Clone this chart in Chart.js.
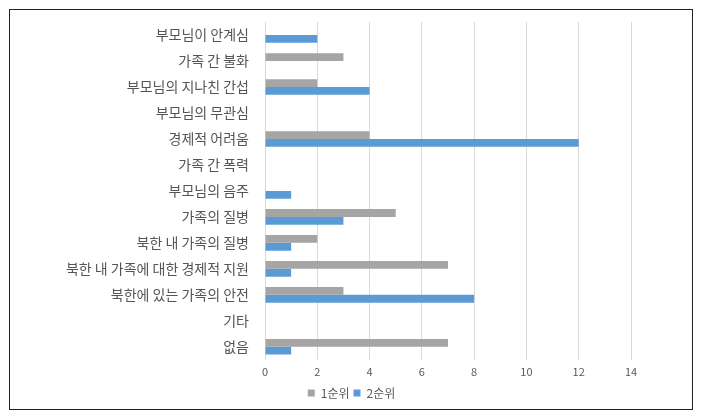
<!DOCTYPE html>
<html lang="ko">
<head>
<meta charset="UTF-8" />
<title>Chart</title>
<style>
  body { margin: 0; background: #fff; }
  #frame { position: absolute; left: 9px; top: 9px; width: 682px; height: 399px; border: 1px solid #222; }
  #chart { position: absolute; left: 0; top: 0; }
</style>
</head>
<body>
<div id="frame"></div>
<canvas id="chart" width="703" height="419"></canvas>

<script src="https://cdn.jsdelivr.net/npm/chart.js"></script>
<script>
  // categories, top to bottom
  const categories = [
    '부모님이 안계심', '가족 간 불화', '부모님의 지나친 간섭', '부모님의 무관심',
    '경제적 어려움', '가족 간 폭력', '부모님의 음주', '가족의 질병',
    '북한 내 가족의 질병', '북한 내 가족에 대한 경제적 지원', '북한에 있는 가족의 안전',
    '기타', '없음'
  ];
  const rank1 = [0, 3, 2, 0, 4, 0, 0, 5, 2, 7, 3, 0, 7];
  const rank2 = [2, 0, 4, 0, 12, 0, 1, 3, 1, 1, 8, 0, 1];
  const seriesNames = ['1순위', '2순위'];

  const font = "'Noto Sans CJK KR', 'Noto Sans', sans-serif";

  new Chart(document.getElementById('chart'), {
    type: 'bar',
    data: {
      labels: categories,
      datasets: [
        { label: seriesNames[0], data: rank1, backgroundColor: '#a5a5a5' },
        { label: seriesNames[1], data: rank2, backgroundColor: '#5b9bd5' }
      ]
    },
    options: {
      indexAxis: 'y',
      responsive: false,
      animation: false,
      barPercentage: 1,
      categoryPercentage: 0.6,
      layout: { padding: { top: 22, right: 0, bottom: 10, left: 0 } },
      scales: {
        x: {
          min: 0, max: 14,
          ticks: { stepSize: 2, color: '#595959', font: { family: font, size: 11 }, padding: 5 },
          grid: { color: '#d9d9d9', drawTicks: false },
          border: { display: false }
        },
        y: {
          ticks: { color: '#555555', font: { family: font, size: 14 }, padding: 8 },
          grid: { display: false },
          border: { display: false },
          afterFit: s => { s.width = 265; }
        },
        // empty right-hand spacer so the plot ends where the reference does
        spacer: {
          type: 'category',
          position: 'right',
          ticks: { display: false },
          grid: { display: false },
          border: { display: false },
          afterFit: s => { s.width = 72; }
        }
      },
      plugins: {
        legend: {
          position: 'bottom',
          labels: { boxWidth: 7, boxHeight: 7, color: '#595959', padding: 4, font: { family: font, size: 12 } }
        },
        tooltip: { enabled: false }
      }
    }
  });
</script>
</body>
</html>
